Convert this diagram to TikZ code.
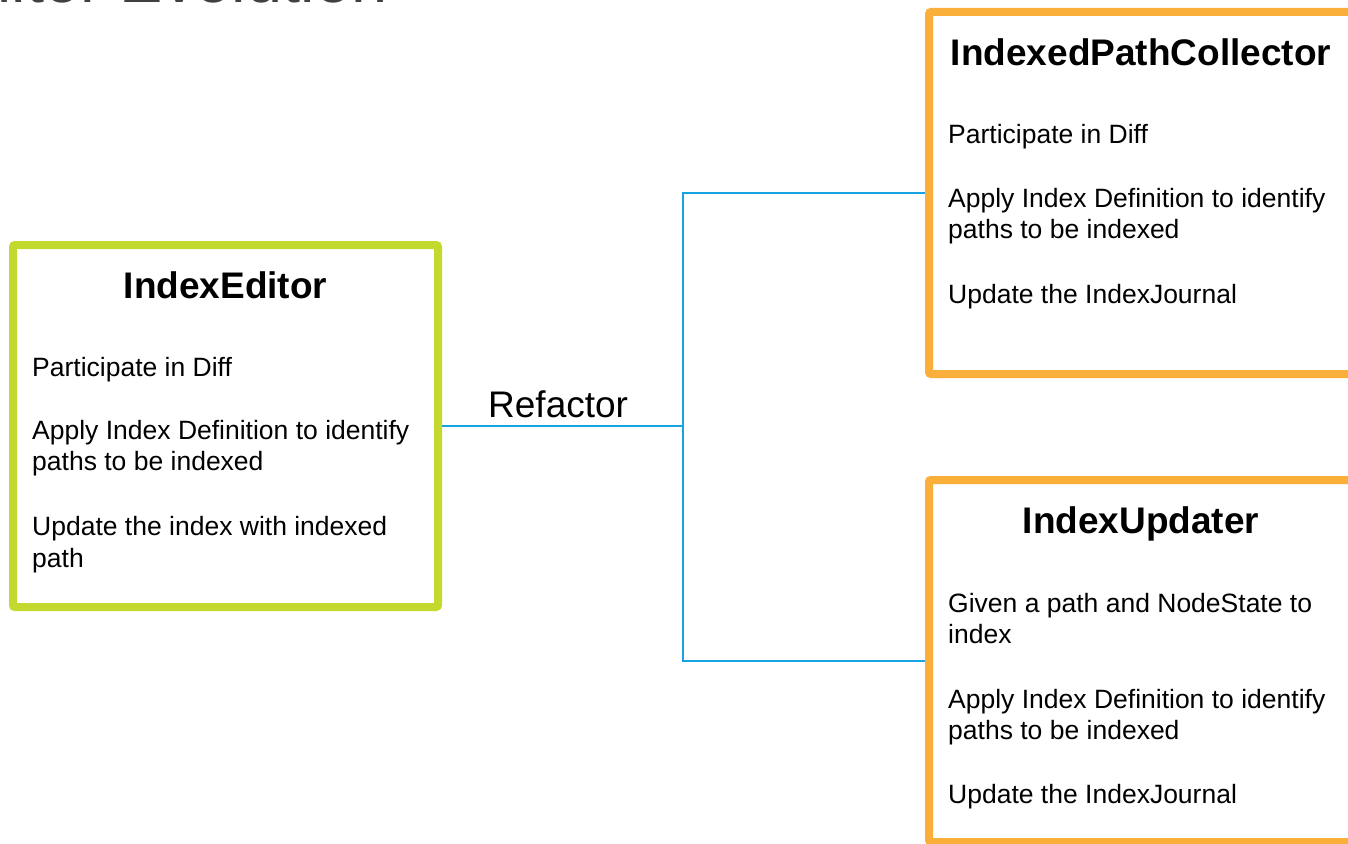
\documentclass[tikz,border=0pt]{standalone}
\usepackage{fontspec}
\setmainfont{Liberation Sans}
\definecolor{boxgreen}{HTML}{C4D92E}
\definecolor{boxorange}{HTML}{FAAF3A}
\definecolor{linkblue}{HTML}{17A2E0}
\definecolor{titlegray}{HTML}{404040}
\tikzset{
  card/.style={draw, line width=8pt, rounded corners=2pt, fill=white, inner sep=0pt,
    minimum width=424pt, minimum height=362pt},
  cardtitle/.style={anchor=base, inner sep=0pt, font=\fontsize{37}{44}\bfseries\selectfont},
  item/.style={anchor=base west, inner sep=0pt, font=\fontsize{26.5}{31}\selectfont},
  link/.style={draw=linkblue, line width=2pt},
}
\begin{document}
\begin{tikzpicture}[x=1pt,y=-1pt]
\useasboundingbox (0,0) rectangle (1348,843);
\clip (0,0) rectangle (1348,843);
\node[anchor=base west, inner sep=0pt, text=titlegray, font=\fontsize{65}{78}\selectfont] (title) at (-227,3) {IndexEditor Evolution};

\node[card, draw=boxgreen, minimum width=425pt] (ed) at (225.5,426) {};
\node[card, draw=boxorange] (ipc) at (1141,193) {};
\node[card, draw=boxorange] (iu) at (1141,661) {};

\node[cardtitle] (edT) at (225.5,298) {IndexEditor};
\node[item] (ed1) at (32,376) {Participate in Diff};
\node[item] (ed2) at (32,439) {Apply Index Definition to identify};
\node[item] (ed3) at (32,470) {paths to be indexed};
\node[item] (ed4) at (32,535) {Update the index with indexed};
\node[item] (ed5) at (32,567) {path};

\node[cardtitle] (ipcT) at (1141,65) {IndexedPathCollector};
\node[item] (ipc1) at (948,143) {Participate in Diff};
\node[item] (ipc2) at (948,207) {Apply Index Definition to identify};
\node[item] (ipc3) at (948,238) {paths to be indexed};
\node[item] (ipc4) at (948,303) {Update the IndexJournal};

\node[cardtitle] (iuT) at (1141,533) {IndexUpdater};
\node[item] (iu1) at (948,612) {Given a path and NodeState to};
\node[item] (iu2) at (948,643) {index};
\node[item] (iu3) at (948,708) {Apply Index Definition to identify};
\node[item] (iu4) at (948,739) {paths to be indexed};
\node[item] (iu5) at (948,803) {Update the IndexJournal};

\coordinate (jn) at (683,426);
\draw[link] (ed.east) -- (jn);
\draw[link] (ipc.west) -| (jn) |- (iu.west);
\node[anchor=base west, inner sep=0pt, font=\fontsize{37}{44}\selectfont] (lbl) at (488,417) {Refactor};
\end{tikzpicture}
\end{document}
